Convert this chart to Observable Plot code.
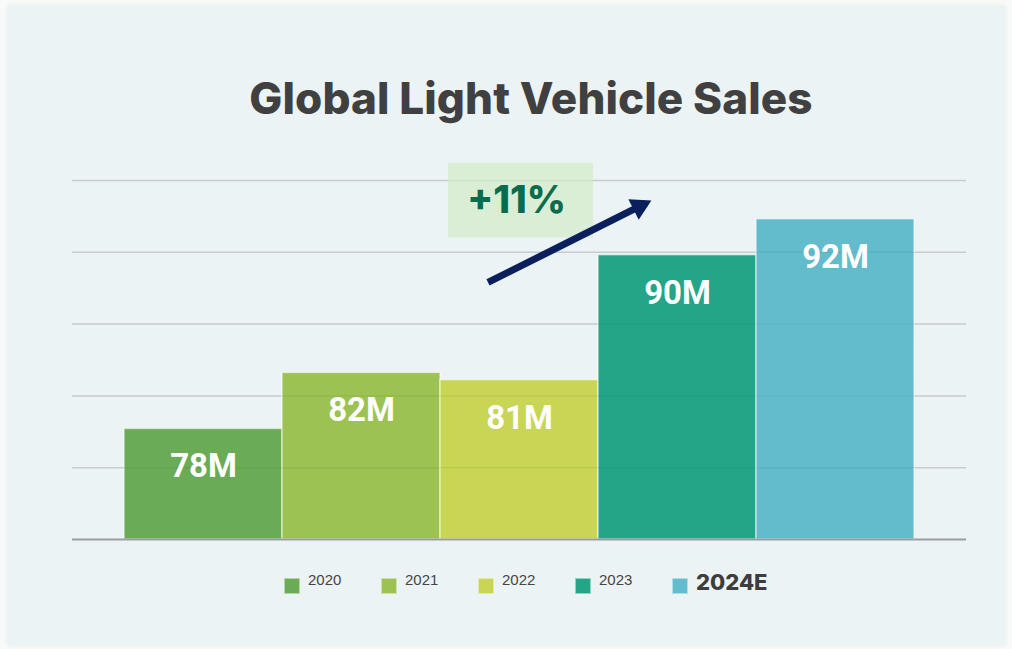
<!DOCTYPE html>
<html><head><meta charset="utf-8">
<script src="https://cdn.jsdelivr.net/npm/d3@7"></script>
<script src="https://cdn.jsdelivr.net/npm/@observablehq/plot@0.6"></script>
<style>
html,body{margin:0;padding:0;background:#f8f9f9;width:1012px;height:649px;overflow:hidden;position:relative;}
#panel{position:absolute;left:8px;top:6px;width:997px;height:639px;background:#ecf3f5;box-shadow:0 0 5px rgba(0,0,0,0.07);}
#title{position:absolute;left:0;width:1062px;top:71px;text-align:center;font-family:Inter,"DejaVu Sans",sans-serif;font-weight:800;font-size:44px;line-height:54px;color:#404040;letter-spacing:0.1px;}
#chart{position:absolute;left:0;top:140px;}
#legend{position:absolute;left:0;top:570px;width:1012px;height:30px;}
.item{position:absolute;top:0;height:30px;}
.sw{position:absolute;top:8px;left:0;width:16px;height:16px;box-sizing:border-box;border:1px solid rgba(255,255,255,0.5);}
.lab{position:absolute;left:24px;top:1px;font-family:"Liberation Sans",Arial,sans-serif;font-size:15px;color:#454545;white-space:nowrap;}
.lab.big{left:24px;top:-1px;font-family:Inter,sans-serif;font-weight:800;font-size:22px;color:#3d3d3d;}
</style>
</head><body>
<div id="panel"></div>
<div id="title">Global Light Vehicle Sales</div>
<div id="chart"></div>
<div id="legend"></div>
<script>
const years = ["2020", "2021", "2022", "2023", "2024E"];
const sales = [77.7, 81.6, 81.1, 89.8, 92.3];
const salesLabels = ["78M", "82M", "81M", "90M", "92M"];
const barColors = ["#6aab56", "#9bc252", "#c8d555", "#24a588", "#62bccb"];
const gridValues = [75, 80, 85, 90, 95];
const baseValue = 70;
const growthLabel = "+11%";
const growthBox = [{x: "2022", y1: 91.0, y2: 96.2}];
const growthText = [{x: "2022", y: 93.6, text: growthLabel}];
const trendShaft = [{x1: "2022", x2: "2023", y1: 87.9, y2: 93.42}];
const trendHead = [{x: "2023", y: 93.19}];

const data = years.map((y, i) => ({year: y, value: sales[i], label: salesLabels[i]}));

const W = 1012, H = 420;
const chart = Plot.plot({
  width: W, height: H,
  marginLeft: 72, marginRight: 46, marginTop: 40, marginBottom: 21,
  style: {background: "transparent", overflow: "visible"},
  x: {domain: years, paddingInner: 0, paddingOuter: 0.316, axis: null},
  y: {domain: [70, 95], axis: null},
  color: {domain: years, range: barColors},
  marks: [
    Plot.ruleY(gridValues, {stroke: "#d2d7d9", strokeWidth: 1.5}),
    Plot.barY(growthBox, {x: "x", y1: "y1", y2: "y2", fill: "#d9eed5", insetLeft: 8, insetRight: 5}),
    Plot.text(growthText, {x: "x", y: "y", text: "text", dx: -3, fill: "#0b6b4d", fontSize: 38, fontWeight: 800, fontFamily: "Inter, sans-serif"}),
    Plot.barY(data, {x: "year", y1: baseValue, y2: "value", fill: "year", stroke: "#ffffff", strokeOpacity: 0.55, strokeWidth: 1.5}),
    Plot.ruleY(gridValues, {stroke: "#000000", strokeOpacity: 0.05, strokeWidth: 1.5}),
    Plot.ruleY([baseValue], {stroke: "#9a9ea2", strokeWidth: 2}),
    Plot.text(data, {x: "year", y: "value", text: "label", dy: 38, fill: "white", fontSize: 33, fontWeight: "bold", fontFamily: "Roboto, sans-serif"}),
    Plot.link(trendShaft, {x1: "x1", x2: "x2", y1: "y1", y2: "y2", dx: -31.5, stroke: "#0b1f5c", strokeWidth: 7, strokeLinecap: "butt"}),
    Plot.dot(trendHead, {x: "x", y: "y", dx: -38, symbol: "triangle2", r: 11, rotate: 63.4, fill: "#0b1f5c", stroke: null})
  ]
});
document.getElementById("chart").appendChild(chart);

const legend = d3.select("#legend");
const starts = [284, 381, 478, 575, 672];
years.forEach((y, i) => {
  const it = legend.append("div").attr("class", "item").style("left", starts[i] + "px");
  it.append("div").attr("class", "sw").style("background", barColors[i]);
  it.append("div").attr("class", i === years.length - 1 ? "lab big" : "lab").text(y);
});
</script>
</body></html>
